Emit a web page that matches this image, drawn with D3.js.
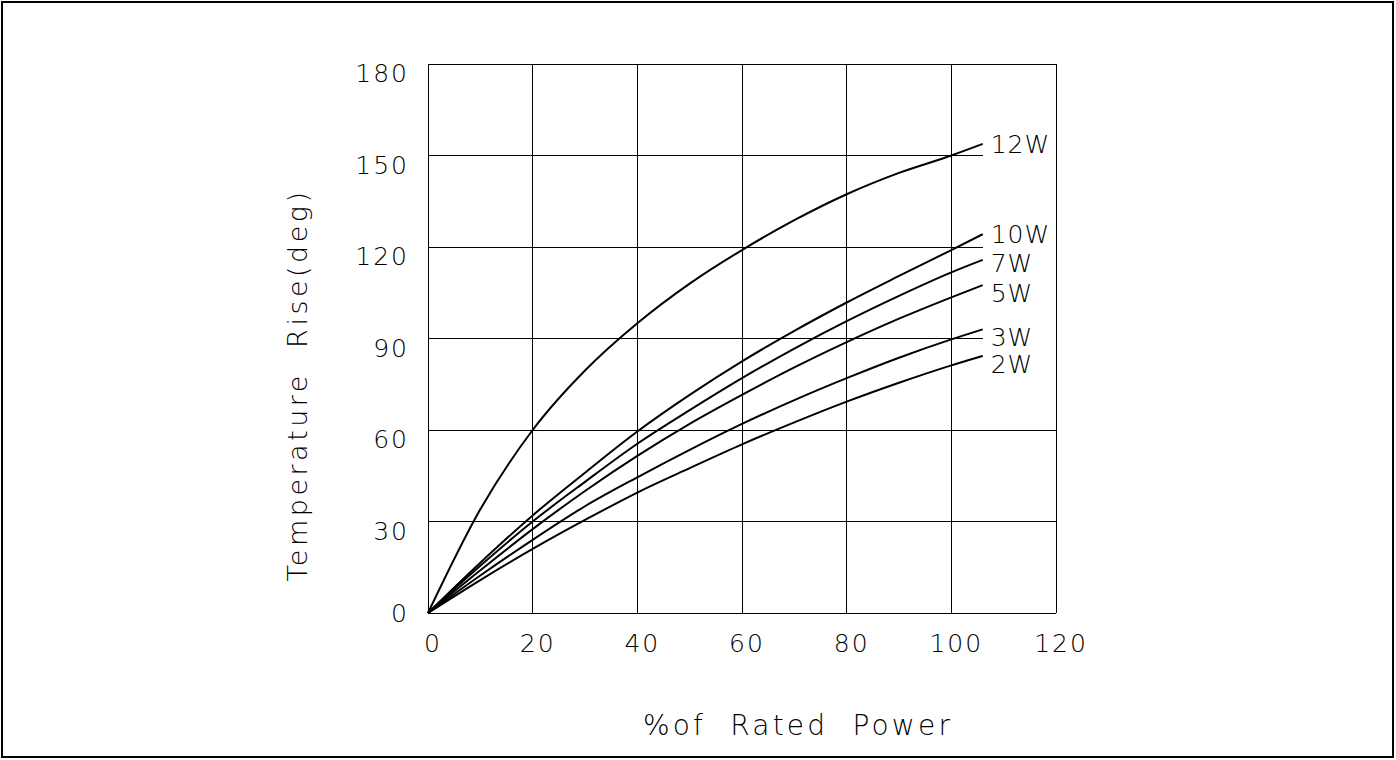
<!DOCTYPE html>
<html>
<head>
<meta charset="utf-8">
<script src="https://cdn.jsdelivr.net/npm/d3@7"></script>
<style>
body{margin:0;background:#fff}
svg{display:block}
text{font-family:"DejaVu Sans",sans-serif;font-weight:200;fill:#000}
</style>
</head>
<body>
<svg id="chart" width="1396" height="760"></svg>
<script>
// x positions where curves were read (% of rated power)
const xs=[0,10,20,30,40,50,60,70,80,90,100,106]
const names=["12W","10W","7W","5W","3W","2W"]
const w12=[0,34,60,79.5,95,108,119,128.8,137.3,144.3,150,153.8]
const w10=[0,16.5,32,46,59.5,71.5,82.5,92.5,101.8,110.5,119,124.2]
const w7=[0,15.5,30,43,55.5,66.5,77,86.7,95.7,104,111.7,115.8]
const w5=[0,14,27.5,40,51.5,62,71.5,80.5,88.8,96.5,103.5,107.5]
const w3=[0,12.3,24,35,44.5,53.5,62,69.8,77,83.7,89.7,93]
const w2=[0,10.8,21,30.5,39.5,47.5,55.3,62.5,69.3,75.5,81.2,84.3]
const xTicks=[0,20,40,60,80,100,120]
const yTicks=[0,30,60,90,120,150,180]

const series=[w12,w10,w7,w5,w3,w2]
const labelDy=[0,0,3,8,8,8] // labels sit a bit below their curve ends
const svg=d3.select("#chart")

// outer frame
svg.append("rect").attr("x",2).attr("y",2).attr("width",1391).attr("height",755)
  .attr("fill","none").attr("stroke","#000").attr("stroke-width",2)

const x=d3.scaleLinear().domain([0,120]).range([428,1056])
const y=d3.scaleLinear().domain([0,180]).range([613,64])
const xEnd=xs[xs.length-1]

// horizontal gridlines stop at the label column when a label sits next to them
function gridEnd(t){
  if(t==0||t==180) return x(120)
  const near=series.some(s=>Math.abs(s[s.length-1]-t)<10)
  return near?x(xEnd):x(120)
}

// grid
svg.append("g").selectAll("line").data(xTicks).join("line")
  .attr("x1",d=>x(d)).attr("x2",d=>x(d)).attr("y1",y(0)).attr("y2",y(180))
  .attr("stroke","#000").attr("stroke-width",1).attr("shape-rendering","crispEdges")
svg.append("g").selectAll("line").data(yTicks).join("line")
  .attr("x1",x(0)).attr("x2",d=>gridEnd(d)).attr("y1",d=>y(d)).attr("y2",d=>y(d))
  .attr("stroke","#000").attr("stroke-width",1).attr("shape-rendering","crispEdges")

// tick labels
svg.append("g").selectAll("text").data(xTicks).join("text")
  .attr("x",d=>x(d)+5).attr("y",652).attr("text-anchor","middle")
  .attr("font-size",25).attr("letter-spacing",2).text(d=>d)
svg.append("g").selectAll("text").data(yTicks).join("text")
  .attr("x",409).attr("y",d=>y(d)+(d>0?18:9)).attr("text-anchor","end")
  .attr("font-size",25).attr("letter-spacing",2).text(d=>d)

// axis titles
svg.append("text").attr("x",798).attr("y",735).attr("text-anchor","middle")
  .attr("font-size",28).attr("letter-spacing",3.2).attr("xml:space","preserve")
  .text("%of  Rated  Power")
svg.append("text").attr("transform","translate(307,385) rotate(-90)")
  .attr("text-anchor","middle").attr("font-size",27).attr("letter-spacing",3.5)
  .attr("xml:space","preserve").text("Temperature  Rise(deg)")

// curves
const line=d3.line().x((d,i)=>x(xs[i])).y(d=>y(d)).curve(d3.curveMonotoneX)
svg.append("g").selectAll("path").data(series).join("path")
  .attr("d",line).attr("fill","none").attr("stroke","#000").attr("stroke-width",2)

// labels
svg.append("g").selectAll("text").data(series).join("text")
  .attr("x",x(xEnd)+8).attr("y",(d,i)=>y(d[d.length-1])+9+labelDy[i])
  .attr("font-size",25).attr("letter-spacing",1).text((d,i)=>names[i])
</script>
</body>
</html>
